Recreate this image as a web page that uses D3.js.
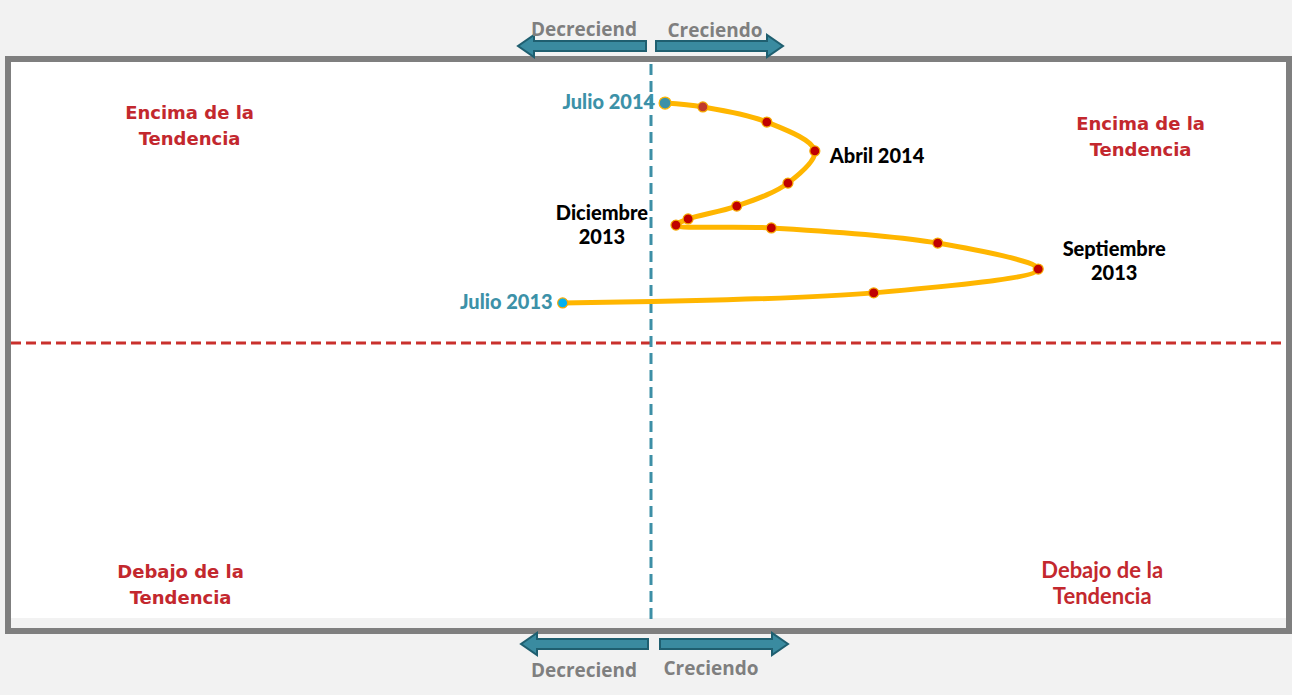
<!DOCTYPE html>
<html>
<head>
<meta charset="utf-8">
<script src="https://cdn.jsdelivr.net/npm/d3@7"></script>
<style>
  body { margin: 0; background: #f2f2f2; }
  svg { display: block; }
</style>
</head>
<body>
<svg id="chart" width="1292" height="695"></svg>
<script>
// months, Jul 2013 .. Jul 2014
const months = ['Jul 2013', 'Ago 2013', 'Sep 2013', 'Oct 2013', 'Nov 2013', 'Dic 2013',
                'Ene 2014', 'Feb 2014', 'Mar 2014', 'Abr 2014', 'May 2014', 'Jun 2014', 'Jul 2014'];
// growth (x) and position relative to trend (y)
const growth = [-13.8, 34.8, 60.5, 44.8, 18.8, 3.9, 5.8, 13.4, 21.4, 25.6, 18.1, 8.1, 2.2];
const level  = [14.3, 17.9, 26.4, 35.7, 41.1, 42.1, 44.3, 48.9, 57.1, 68.6, 78.9, 84.3, 85.7];

const quadrantLabels = [
    {text: ['Encima de la', 'Tendencia'], gx: -72.1, gy: 80},
    {text: ['Encima de la', 'Tendencia'], gx: 76.5, gy: 76},
    {text: ['Debajo de la', 'Tendencia'], gx: -73.5, gy: -84},
    {text: ['Debajo de la', 'Tendencia'], gx: 70.5, gy: -84}
];

const svg = d3.select('#chart');

const x = d3.scaleLinear().domain([-100, 100]).range([11, 1291]);
const y = d3.scaleLinear().domain([-100, 100]).range([623, 63]);

// plot frame
svg.append('rect').attr('x', 8).attr('y', 59).attr('width', 1281).attr('height', 572)
    .attr('fill', '#f2f2f2').attr('stroke', '#7f7f7f').attr('stroke-width', 6);
svg.append('rect').attr('x', 11).attr('y', 62).attr('width', 1275).attr('height', 556)
    .attr('fill', '#ffffff');

// centre lines
svg.append('line')
    .attr('x1', 11).attr('x2', 1286).attr('y1', y(0)).attr('y2', y(0))
    .attr('stroke', '#c9302c').attr('stroke-width', 3).attr('stroke-dasharray', '10,5');
svg.append('line')
    .attr('x1', x(0)).attr('x2', x(0)).attr('y1', 64).attr('y2', 624)
    .attr('stroke', '#3d8fa6').attr('stroke-width', 3).attr('stroke-dasharray', '11,6');

// quadrant labels
const qFont = ['DejaVu Sans', 'DejaVu Sans', 'DejaVu Sans', 'Lato'];
quadrantLabels.forEach((q, i) => {
    const t = svg.append('text')
        .attr('text-anchor', 'middle')
        .attr('font-family', qFont[i])
        .attr('font-weight', 'bold')
        .attr('font-size', i === 3 ? 22 : 18)
        .attr('fill', '#c3282e');
    q.text.forEach((line, k) => {
        t.append('tspan').attr('x', x(q.gx)).attr('y', y(q.gy) + k * 26).text(line);
    });
});

// trajectory
const pts = months.map((m, i) => ({m: m, gx: growth[i], gy: level[i]}));
const line = d3.line().x(d => x(d.gx)).y(d => y(d.gy)).curve(d3.curveCatmullRom.alpha(0.5));
svg.append('path').datum(pts).attr('d', line)
    .attr('fill', 'none').attr('stroke', '#ffb600').attr('stroke-width', 5)
    .attr('stroke-linecap', 'round');

const last = pts.length - 1;
svg.selectAll('circle.pt').data(pts).enter().append('circle')
    .attr('class', 'pt')
    .attr('cx', d => x(d.gx)).attr('cy', d => y(d.gy))
    .attr('r', (d, i) => i === last ? 6 : 5)
    .attr('fill', (d, i) => i === 0 ? '#00b0f0' : i === last ? '#3c91a8' : i === last - 1 ? '#c0392b' : '#c00000')
    .attr('stroke', (d, i) => i === last ? '#ffb600' : '#f5a800')
    .attr('stroke-width', 1.2);

// point labels
const labelFont = 'Lato';
function ptLabel(i, lines, dx, dy, anchor, color, size) {
    const t = svg.append('text')
        .attr('text-anchor', anchor)
        .attr('font-family', labelFont).attr('font-weight', 900)
        .attr('font-size', size).attr('fill', color);
    lines.forEach((l, k) => {
        t.append('tspan').attr('x', x(pts[i].gx) + dx).attr('y', y(pts[i].gy) + dy + k * 24).text(l);
    });
}
ptLabel(last, ['Julio 2014'], -10, 6, 'end', '#3c91a8', 20);
ptLabel(0, ['Julio 2013'], -10, 6, 'end', '#3c91a8', 20);
ptLabel(9, ['Abril 2014'], 15, 12, 'start', '#000000', 20);
ptLabel(5, ['Diciembre', '2013'], -74, -5, 'middle', '#000000', 20);
ptLabel(2, ['Septiembre', '2013'], 76, -13, 'middle', '#000000', 20);

// direction arrows
function arrow(x0, x1, yc) {
    const dir = x1 > x0 ? 1 : -1;
    const head = 16 * dir;
    const h = 5, hh = 11;
    const p = d3.path();
    p.moveTo(x0, yc - h);
    p.lineTo(x1 - head, yc - h);
    p.lineTo(x1 - head, yc - hh);
    p.lineTo(x1, yc);
    p.lineTo(x1 - head, yc + hh);
    p.lineTo(x1 - head, yc + h);
    p.lineTo(x0, yc + h);
    p.closePath();
    svg.append('path').attr('d', p.toString())
        .attr('fill', '#3a8ba0').attr('stroke', '#1f5f70').attr('stroke-width', 2);
}
arrow(646, 518, 46);
arrow(656, 783, 46);
arrow(648, 521, 644);
arrow(660, 788, 644);

const dirText = [
    {t: 'Decreciend', cx: 584, cy: 36},
    {t: 'Creciendo', cx: 715, cy: 37},
    {t: 'Decreciend', cx: 584, cy: 677},
    {t: 'Creciendo', cx: 711, cy: 675}
];
svg.selectAll('text.dir').data(dirText).enter().append('text')
    .attr('class', 'dir')
    .attr('x', d => d.cx).attr('y', d => d.cy)
    .attr('text-anchor', 'middle')
    .attr('font-family', 'Open Sans').attr('font-weight', 'bold')
    .attr('font-size', 19).attr('fill', '#7f7f7f')
    .text(d => d.t);
</script>
</body>
</html>
